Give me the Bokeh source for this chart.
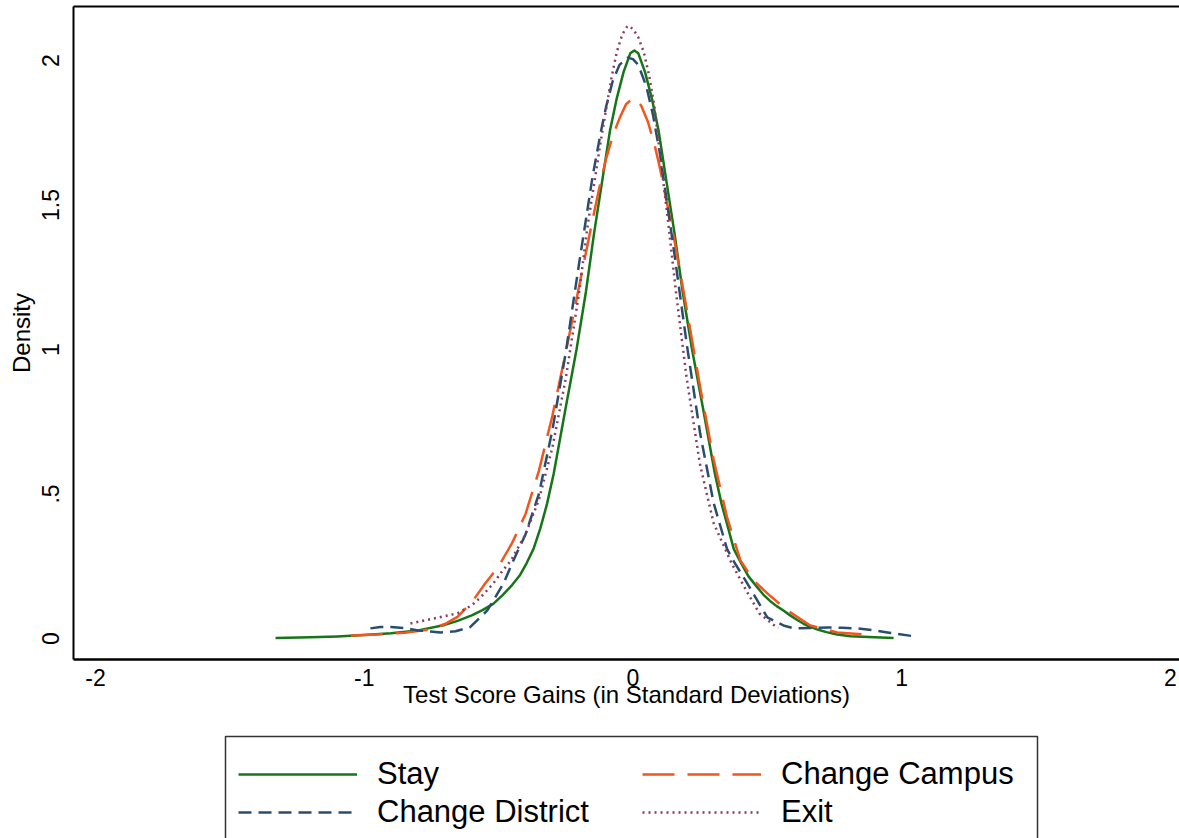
from bokeh.plotting import figure
from bokeh.models import Legend, LegendItem, LinearAxis, FixedTicker, Range1d
from bokeh.layouts import column
from bokeh.embed import file_html
from bokeh.resources import INLINE

# ---- data (kernel density curves) ----
stay_x = [-1.33, -1.2, -1.1, -1.0, -0.9, -0.8, -0.7, -0.65, -0.6, -0.56, -0.52, -0.485, -0.45,
          -0.42, -0.395, -0.37, -0.345, -0.32, -0.295, -0.25, -0.21, -0.175, -0.145, -0.115,
          -0.085, -0.06, -0.035, -0.01, 0.005, 0.02, 0.045, 0.07, 0.095, 0.125, 0.155, 0.185,
          0.22, 0.26, 0.305, 0.33, 0.355, 0.375, 0.40, 0.43, 0.46, 0.485, 0.51, 0.535, 0.56,
          0.585, 0.61, 0.635, 0.66, 0.69, 0.72, 0.76, 0.81, 0.9, 0.97]
stay_y = [0.002, 0.004, 0.007, 0.012, 0.018, 0.028, 0.047, 0.062, 0.08, 0.098, 0.12, 0.15, 0.185,
          0.22, 0.262, 0.31, 0.38, 0.465, 0.57, 0.80, 1.0, 1.2, 1.40, 1.58,
          1.76, 1.87, 1.96, 2.025, 2.035, 2.025, 1.96, 1.87, 1.76, 1.58, 1.40, 1.2,
          1.0, 0.80, 0.57, 0.465, 0.38, 0.31, 0.265, 0.215, 0.18, 0.152, 0.13, 0.112, 0.097,
          0.08, 0.065, 0.051, 0.04, 0.03, 0.022, 0.014, 0.008, 0.004, 0.002]

campus_x = [-1.05, -0.95, -0.85, -0.765, -0.70, -0.653, -0.60, -0.55, -0.50, -0.45, -0.40, -0.35,
            -0.30, -0.25, -0.20, -0.15, -0.125, -0.10, -0.075, -0.05, -0.025, 0.003, 0.03, 0.055,
            0.08, 0.10, 0.15, 0.20, 0.25, 0.30, 0.35, 0.40, 0.45, 0.50, 0.575, 0.66, 0.76, 0.884]
campus_y = [0.01, 0.014, 0.02, 0.03, 0.05, 0.075, 0.125, 0.19, 0.25, 0.33, 0.43, 0.58,
            0.77, 0.99, 1.22, 1.45, 1.56, 1.66, 1.74, 1.80, 1.85, 1.87, 1.845, 1.79,
            1.71, 1.63, 1.40, 1.14, 0.87, 0.62, 0.42, 0.27, 0.20, 0.156, 0.097, 0.045, 0.021, 0.012]

district_x = [-0.977, -0.94, -0.90, -0.85, -0.80, -0.716, -0.66, -0.605, -0.542, -0.482, -0.445,
              -0.40, -0.35, -0.30, -0.25, -0.20, -0.15, -0.12, -0.10, -0.075, -0.05, -0.02, 0.0,
              0.02, 0.05, 0.075, 0.10, 0.15, 0.20, 0.25, 0.30, 0.35, 0.373, 0.426, 0.50, 0.56,
              0.60, 0.66, 0.724, 0.78, 0.835, 0.90, 0.947, 1.05]
district_y = [0.035, 0.040, 0.040, 0.036, 0.028, 0.021, 0.025, 0.04, 0.097, 0.19, 0.27,
              0.36, 0.50, 0.72, 0.99, 1.30, 1.60, 1.75, 1.84, 1.93, 1.985, 2.01, 2.005,
              1.985, 1.91, 1.81, 1.68, 1.36, 1.02, 0.71, 0.47, 0.31, 0.27, 0.19, 0.073, 0.045,
              0.035, 0.036, 0.038, 0.037, 0.035, 0.028, 0.021, 0.007]

exit_x = [-0.828, -0.742, -0.653, -0.60, -0.567, -0.52, -0.493, -0.454, -0.40, -0.35, -0.30, -0.25,
          -0.20, -0.17, -0.14, -0.12, -0.10, -0.08, -0.06, -0.04, -0.02, 0.0, 0.02, 0.04, 0.06,
          0.08, 0.10, 0.13, 0.16, 0.20, 0.25, 0.30, 0.367, 0.416, 0.47, 0.54]
exit_y = [0.052, 0.069, 0.087, 0.115, 0.142, 0.19, 0.225, 0.27, 0.36, 0.48, 0.66, 0.90,
          1.20, 1.42, 1.60, 1.72, 1.83, 1.94, 2.03, 2.09, 2.12, 2.11, 2.08, 2.03, 1.95,
          1.84, 1.68, 1.45, 1.20, 0.90, 0.60, 0.40, 0.26, 0.176, 0.087, 0.035]

series_labels = ["Stay", "Change Campus", "Change District", "Exit"]
series_colors = ["#167516", "#f0561e", "#2a4d6e", "#8a3b5e"]
series_dashes = ["solid", "32 13", "13 7", "2 4"]

x_ticks = [-2, -1, 0, 1, 2]
x_tick_labels = ["-2", "-1", "0", "1", "2"]
y_ticks = [0, 0.5, 1, 1.5, 2]
y_tick_labels = ["0", ".5", "1", "1.5", "2"]

x_title = "Test Score Gains (in Standard Deviations)"
y_title = "Density"

FONT = "Liberation Sans"
W = 1179
LEFT = 73

# ---------------- main plot ----------------
p = figure(width=W, height=732, output_backend="svg", toolbar_location=None,
           x_range=Range1d(-2.082, 2.034), y_range=Range1d(-0.0727, 2.187),
           min_border_left=LEFT, min_border_right=0, min_border_top=6, min_border_bottom=73)
p.outline_line_color = None
p.grid.visible = False
p.background_fill_color = "white"
p.border_fill_color = "white"

for ax in (p.xaxis[0], p.yaxis[0]):
    ax.major_tick_out = 0
    ax.major_tick_in = 0
    ax.minor_tick_out = 0
    ax.minor_tick_in = 0
    ax.axis_line_color = "black"
    ax.axis_line_width = 2
    ax.major_label_text_font = FONT
    ax.major_label_text_font_size = "23px"
    ax.major_label_text_color = "black"
    ax.axis_label_text_font = FONT
    ax.axis_label_text_font_size = "24px"
    ax.axis_label_text_font_style = "normal"
    ax.axis_label_text_color = "black"

p.xaxis[0].ticker = FixedTicker(ticks=x_ticks)
p.xaxis[0].major_label_overrides = {t: l for t, l in zip(x_ticks, x_tick_labels)}
p.xaxis[0].axis_label = x_title
p.xaxis[0].major_label_standoff = 9
p.xaxis[0].axis_label_standoff = -8
p.xaxis[0].axis_line_width = 2.5

p.yaxis[0].ticker = FixedTicker(ticks=y_ticks)
p.yaxis[0].major_label_overrides = {t: l for t, l in zip(y_ticks, y_tick_labels)}
p.yaxis[0].axis_label = y_title
p.yaxis[0].major_label_orientation = "vertical"
p.yaxis[0].major_label_standoff = 14
p.yaxis[0].axis_label_standoff = 5

top_axis = LinearAxis(ticker=FixedTicker(ticks=[]), axis_line_color="black", axis_line_width=2,
                      major_tick_out=0, major_tick_in=0, minor_tick_out=0, minor_tick_in=0,
                      major_label_text_font_size="0px")
p.add_layout(top_axis, "above")

curves = [(stay_x, stay_y), (campus_x, campus_y), (district_x, district_y), (exit_x, exit_y)]
for (xs, ys), c, d in zip(curves, series_colors, series_dashes):
    p.line(xs, ys, line_color=c, line_width=2.5, line_dash=d, line_join="round")

# ---------------- legend strip (pixel coordinates) ----------------
LH = 106
q = figure(width=W, height=LH, output_backend="svg", toolbar_location=None,
           x_range=Range1d(LEFT, W), y_range=Range1d(0, LH),
           min_border_left=LEFT, min_border_right=0, min_border_top=0, min_border_bottom=0)
q.axis.visible = False
q.grid.visible = False
q.outline_line_color = None
q.background_fill_color = "white"
q.border_fill_color = "white"

# legend frame (its bottom edge lies below the visible window, as in the reference)
q.quad(left=[225], right=[1037], top=[102], bottom=[-20],
       fill_color=None, line_color="#333333", line_width=1.5)

# swatch renderers: nothing visible is drawn (NaN data), they only feed the legends
nan = float("nan")
swatches = []
for c, d in zip(series_colors, series_dashes):
    swatches.append(q.line([0, 1], [nan, nan], line_color=c, line_width=2.5, line_dash=d))

def make_legend(idx, loc):
    return Legend(items=[LegendItem(label=series_labels[i], renderers=[swatches[i]]) for i in idx],
                  location=loc, orientation="vertical",
                  glyph_width=119, glyph_height=34, label_height=34,
                  label_standoff=20, padding=0, spacing=2, margin=0,
                  border_line_color=None, background_fill_alpha=0,
                  label_text_font=FONT, label_text_font_size="31px",
                  label_text_color="black")

q.add_layout(make_legend([0, 2], (238 - LEFT, 8)))
q.add_layout(make_legend([1, 3], (642 - LEFT, 8)))

layout = column(p, q, spacing=0)
open("out.html", "w").write(file_html(layout, INLINE))
